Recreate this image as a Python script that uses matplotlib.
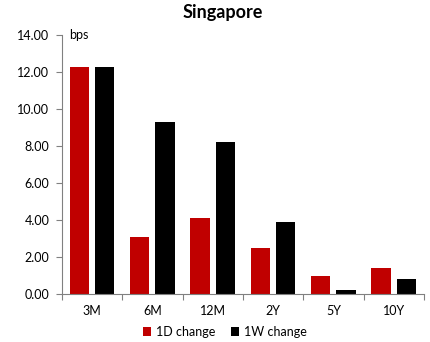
import numpy as np
import matplotlib.pyplot as plt

tenors = ['3M', '6M', '12M', '2Y', '5Y', '10Y']
change_1d = [12.27, 3.08, 4.10, 2.50, 1.00, 1.40]
change_1w = [12.27, 9.30, 8.20, 3.90, 0.20, 0.80]

plt.rcParams['font.family'] = ['Lato', 'DejaVu Sans']

fig = plt.figure(figsize=(4.3, 3.42), dpi=100)
ax = fig.add_axes([0.144, 0.140, 0.842, 0.758])

x = np.arange(len(tenors))
w = 0.32
ax.bar(x - 0.21, change_1d, w, color='#C00000', label='1D change')
ax.bar(x + 0.21, change_1w, w, color='#000000', label='1W change')

ax.set_xlim(-0.5, len(tenors) - 0.5)
ax.set_ylim(0, 14)
ax.set_yticks(np.arange(0, 14.01, 2))
ax.set_yticklabels(['%.2f' % v for v in np.arange(0, 14.01, 2)], fontsize=9)

# category labels in the middle, tick marks on the boundaries
ax.set_xticks(np.arange(-0.5, len(tenors), 1))
ax.set_xticklabels([])
ax.set_xticks(x, minor=True)
ax.set_xticklabels(tenors, minor=True, fontsize=9)
ax.tick_params(axis='x', which='minor', length=0, pad=8)
ax.tick_params(axis='x', which='major', length=4, color='#808080')
ax.tick_params(axis='y', length=4, color='#808080', pad=5)

for s in ['top', 'right']:
    ax.spines[s].set_visible(False)
for s in ['left', 'bottom']:
    ax.spines[s].set_color('#808080')

ax.text(0.02, 1.0, 'bps', transform=ax.transAxes, fontsize=9, va='center')
fig.text(0.519, 0.962, 'Singapore', ha='center', va='center', fontsize=13, fontweight='bold')

ax.legend(loc='center', bbox_to_anchor=(0.523, 0.029), bbox_transform=fig.transFigure,
          ncol=2, frameon=False, fontsize=9, handlelength=0.7, handleheight=0.7,
          columnspacing=1.2, handletextpad=0.4, borderpad=0)

fig.savefig('out.png', dpi=100)
